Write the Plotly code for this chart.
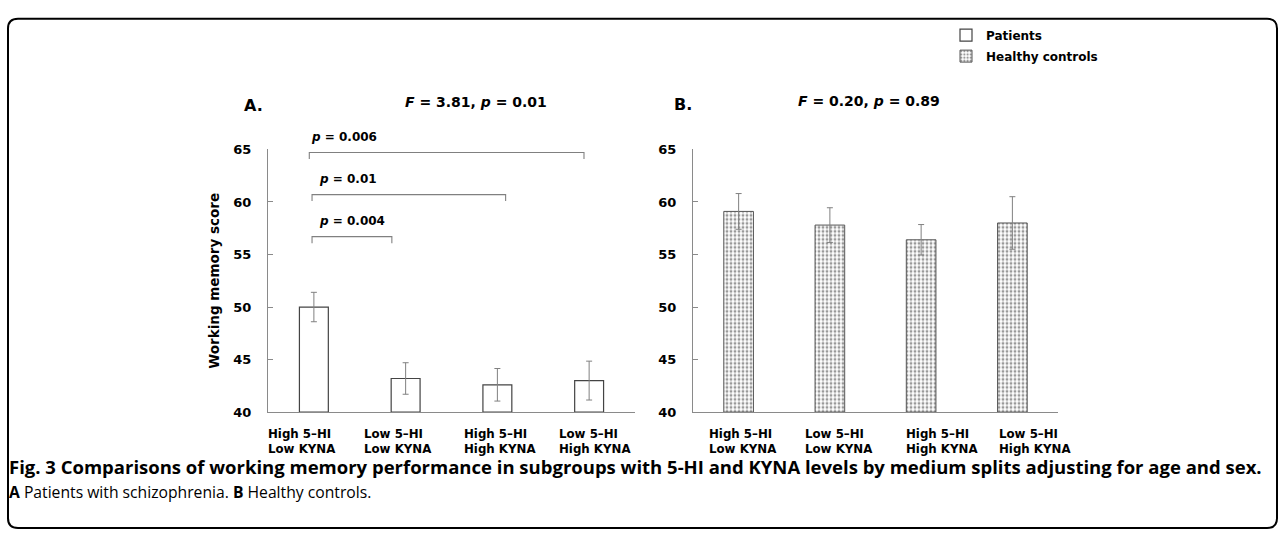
import plotly.graph_objects as go

W, H = 1281, 539

# ---------------- data ----------------
groups = ["High 5–HI<br>Low KYNA", "Low 5–HI<br>Low KYNA", "High 5–HI<br>High KYNA", "Low 5–HI<br>High KYNA"]
patients_mean = [50.0, 43.2, 42.6, 43.0]
patients_err = [1.4, 1.5, 1.55, 1.85]
controls_mean = [59.1, 57.8, 56.4, 58.0]
controls_err = [1.7, 1.65, 1.45, 2.5]
y_ticks = [40, 45, 50, 55, 60, 65]
stat_A = "<b><i>F</i> = 3.81, <i>p</i> = 0.01</b>"
stat_B = "<b><i>F</i> = 0.20, <i>p</i> = 0.89</b>"
# pairwise comparisons in panel A: (label, group from, group to, bracket level)
comp_labels = ["0.004", "0.01", "0.006"]
comp_from = [0, 0, 0]
comp_to = [1, 2, 3]
comp_level = [56.7, 60.7, 64.7]
caption1 = "<b>Fig. 3 Comparisons of working memory performance in subgroups with 5-HI and KYNA levels by medium splits adjusting for age and sex.</b>"
caption2 = "<b>A</b> Patients with schizophrenia. <b>B</b> Healthy controls."

# ---------------- style ----------------
FONT = "DejaVu Sans"
CAP_FONT = "Open Sans"
AX = "#8a8a8a"
x_idx = list(range(len(groups)))
bracket_off0 = [-0.02, -0.02, -0.05]
bracket_off1 = [-0.15, 0.09, -0.056]
label_shift_A = [-0.51, -0.47, -0.38, -0.34]
label_shift_B = [-0.34, -0.28, -0.18, -0.16]
domA = [268, 635]
domB = [693, 1058]


def px(x):
    return x / W


def py(y):
    return 1 - y / H


def cat_paper(dom, pos):
    # position in category units (range -0.5..3.5) -> paper fraction
    return px(dom[0] + (pos + 0.5) / 4.0 * (dom[1] - dom[0]))


fig = go.Figure()
fig.add_trace(go.Bar(
    x=x_idx, y=[m - 40 for m in patients_mean], base=40, name="Patients",
    width=0.315, marker=dict(color="white", line=dict(color="#444444", width=1.2)),
    error_y=dict(type="data", array=patients_err, color="#808080", thickness=1, width=3),
    xaxis="x", yaxis="y", legendgroup="a", hoverinfo="skip"))
fig.add_trace(go.Bar(
    x=x_idx, y=[m - 40 for m in controls_mean], base=40, name="Healthy controls",
    width=0.325,
    marker=dict(color="white", line=dict(color="#555555", width=1),
                pattern=dict(shape=".", fgcolor="#333333", bgcolor="white", size=4, solidity=0.42)),
    error_y=dict(type="data", array=controls_err, color="#808080", thickness=1, width=3),
    xaxis="x2", yaxis="y2", legendgroup="b", hoverinfo="skip"))

yax = dict(range=[40, 65], tickvals=y_ticks, showline=True, linecolor=AX, linewidth=1.3,
           ticks="inside", ticklen=5, tickcolor=AX, showgrid=False, zeroline=False,
           tickfont=dict(family=FONT, size=13, color="black", weight="bold"),
           ticklabelstandoff=13, domain=[py(416.7), py(146.5)])
xax = dict(range=[-0.5, 3.5], showline=True, linecolor=AX, linewidth=1.3, showgrid=False,
           zeroline=False, showticklabels=False, ticks="")

fig.update_layout(
    autosize=True, margin=dict(l=0, r=0, t=0, b=0),
    paper_bgcolor="white", plot_bgcolor="white",
    xaxis=dict(xax, domain=[px(domA[0]), px(domA[1])]),
    xaxis2=dict(xax, domain=[px(domB[0]), px(domB[1])]),
    yaxis=dict(yax, anchor="x",
               title=dict(text="<b>Working memory score</b>", standoff=10,
                          font=dict(family=FONT, size=13.5, color="black"))),
    yaxis2=dict(yax, anchor="x2"),
    showlegend=True,
    legend=dict(x=px(946), y=py(14), xanchor="left", yanchor="top",
                font=dict(family=FONT, size=12, color="black", weight="bold"),
                bgcolor="rgba(0,0,0,0)", traceorder="grouped", tracegroupgap=2,
                itemwidth=30),
    bargap=0.5,
)

ann = []
# panel titles
ann.append(dict(text="<b>A.</b>", x=px(253), y=py(101), xref="paper", yref="paper",
                xanchor="center", yanchor="middle",
                showarrow=False, font=dict(family=FONT, size=16, color="black")))
ann.append(dict(text=stat_A, x=px(476), y=py(98), xref="paper", yref="paper",
                xanchor="center", yanchor="middle",
                showarrow=False, font=dict(family=FONT, size=14, color="black")))
ann.append(dict(text="<b>B.</b>", x=px(683), y=py(100), xref="paper", yref="paper",
                xanchor="center", yanchor="middle",
                showarrow=False, font=dict(family=FONT, size=16, color="black")))
ann.append(dict(text=stat_B, x=px(869), y=py(97), xref="paper", yref="paper",
                xanchor="center", yanchor="middle",
                showarrow=False, font=dict(family=FONT, size=14, color="black")))

# category labels
for i, g in enumerate(groups):
    ann.append(dict(text="<b>" + g + "</b>", x=cat_paper(domA, x_idx[i] + label_shift_A[i]), xref="paper",
                    y=py(447), yref="paper", xanchor="left", yanchor="middle", align="left",
                    showarrow=False, borderpad=0, font=dict(family=FONT, size=11.8, color="black")))
    ann.append(dict(text="<b>" + g + "</b>", x=cat_paper(domB, x_idx[i] + label_shift_B[i]), xref="paper",
                    y=py(447), yref="paper", xanchor="left", yanchor="middle", align="left",
                    showarrow=False, borderpad=0, font=dict(family=FONT, size=11.8, color="black")))

# comparison brackets
shapes = []
drop = 0.62
for k in range(len(comp_labels)):
    x0 = comp_from[k] + bracket_off0[k]
    x1 = comp_to[k] + bracket_off1[k]
    yl = comp_level[k]
    shapes.append(dict(type="path", xref="x", yref="y",
                       path=f"M {x0},{yl - drop} L {x0},{yl} L {x1},{yl} L {x1},{yl - drop}",
                       line=dict(color="#808080", width=1.1)))
    ann.append(dict(text=f"<b><i>p</i> = {comp_labels[k]}</b>", x=x0 + (0.0 if k == 2 else 0.05),
                    xref="x", y=yl, yref="y", yshift=16, xanchor="left", yanchor="middle",
                    showarrow=False, font=dict(family=FONT, size=12, color="black")))

# caption
ann.append(dict(text=caption1, x=px(8), y=py(473), xref="paper", yref="paper", xanchor="left",
                yanchor="middle", showarrow=False, borderpad=0,
                font=dict(family=CAP_FONT, size=18.5, color="black")))
ann.append(dict(text=caption2, x=px(8), y=py(499), xref="paper", yref="paper", xanchor="left",
                yanchor="middle", showarrow=False, borderpad=0,
                font=dict(family=CAP_FONT, size=15.7, color="black")))

# rounded frame
x0, y0, x1, y1, r = 8, 12, 1277, 536, 10
frame = (f"M {px(x0 + r)},{py(y0)} L {px(x1 - r)},{py(y0)} Q {px(x1)},{py(y0)} {px(x1)},{py(y0 + r)} "
         f"L {px(x1)},{py(y1 - r)} Q {px(x1)},{py(y1)} {px(x1 - r)},{py(y1)} "
         f"L {px(x0 + r)},{py(y1)} Q {px(x0)},{py(y1)} {px(x0)},{py(y1 - r)} "
         f"L {px(x0)},{py(y0 + r)} Q {px(x0)},{py(y0)} {px(x0 + r)},{py(y0)} Z")
shapes.append(dict(type="path", xref="paper", yref="paper", path=frame,
                   line=dict(color="black", width=2)))

fig.update_layout(annotations=ann, shapes=shapes)
fig.write_html(
    "out.html", config={"displayModeBar": False, "responsive": True},
    default_width="100vw", default_height="100vh",
    post_script=("document.body.style.margin='0';"
                 "document.documentElement.style.overflow='hidden';"
                 "var gd=document.getElementById('{plot_id}');"
                 "gd.style.position='fixed';gd.style.top='0px';gd.style.left='0px';"
                 "Plotly.Plots.resize(gd);"))
